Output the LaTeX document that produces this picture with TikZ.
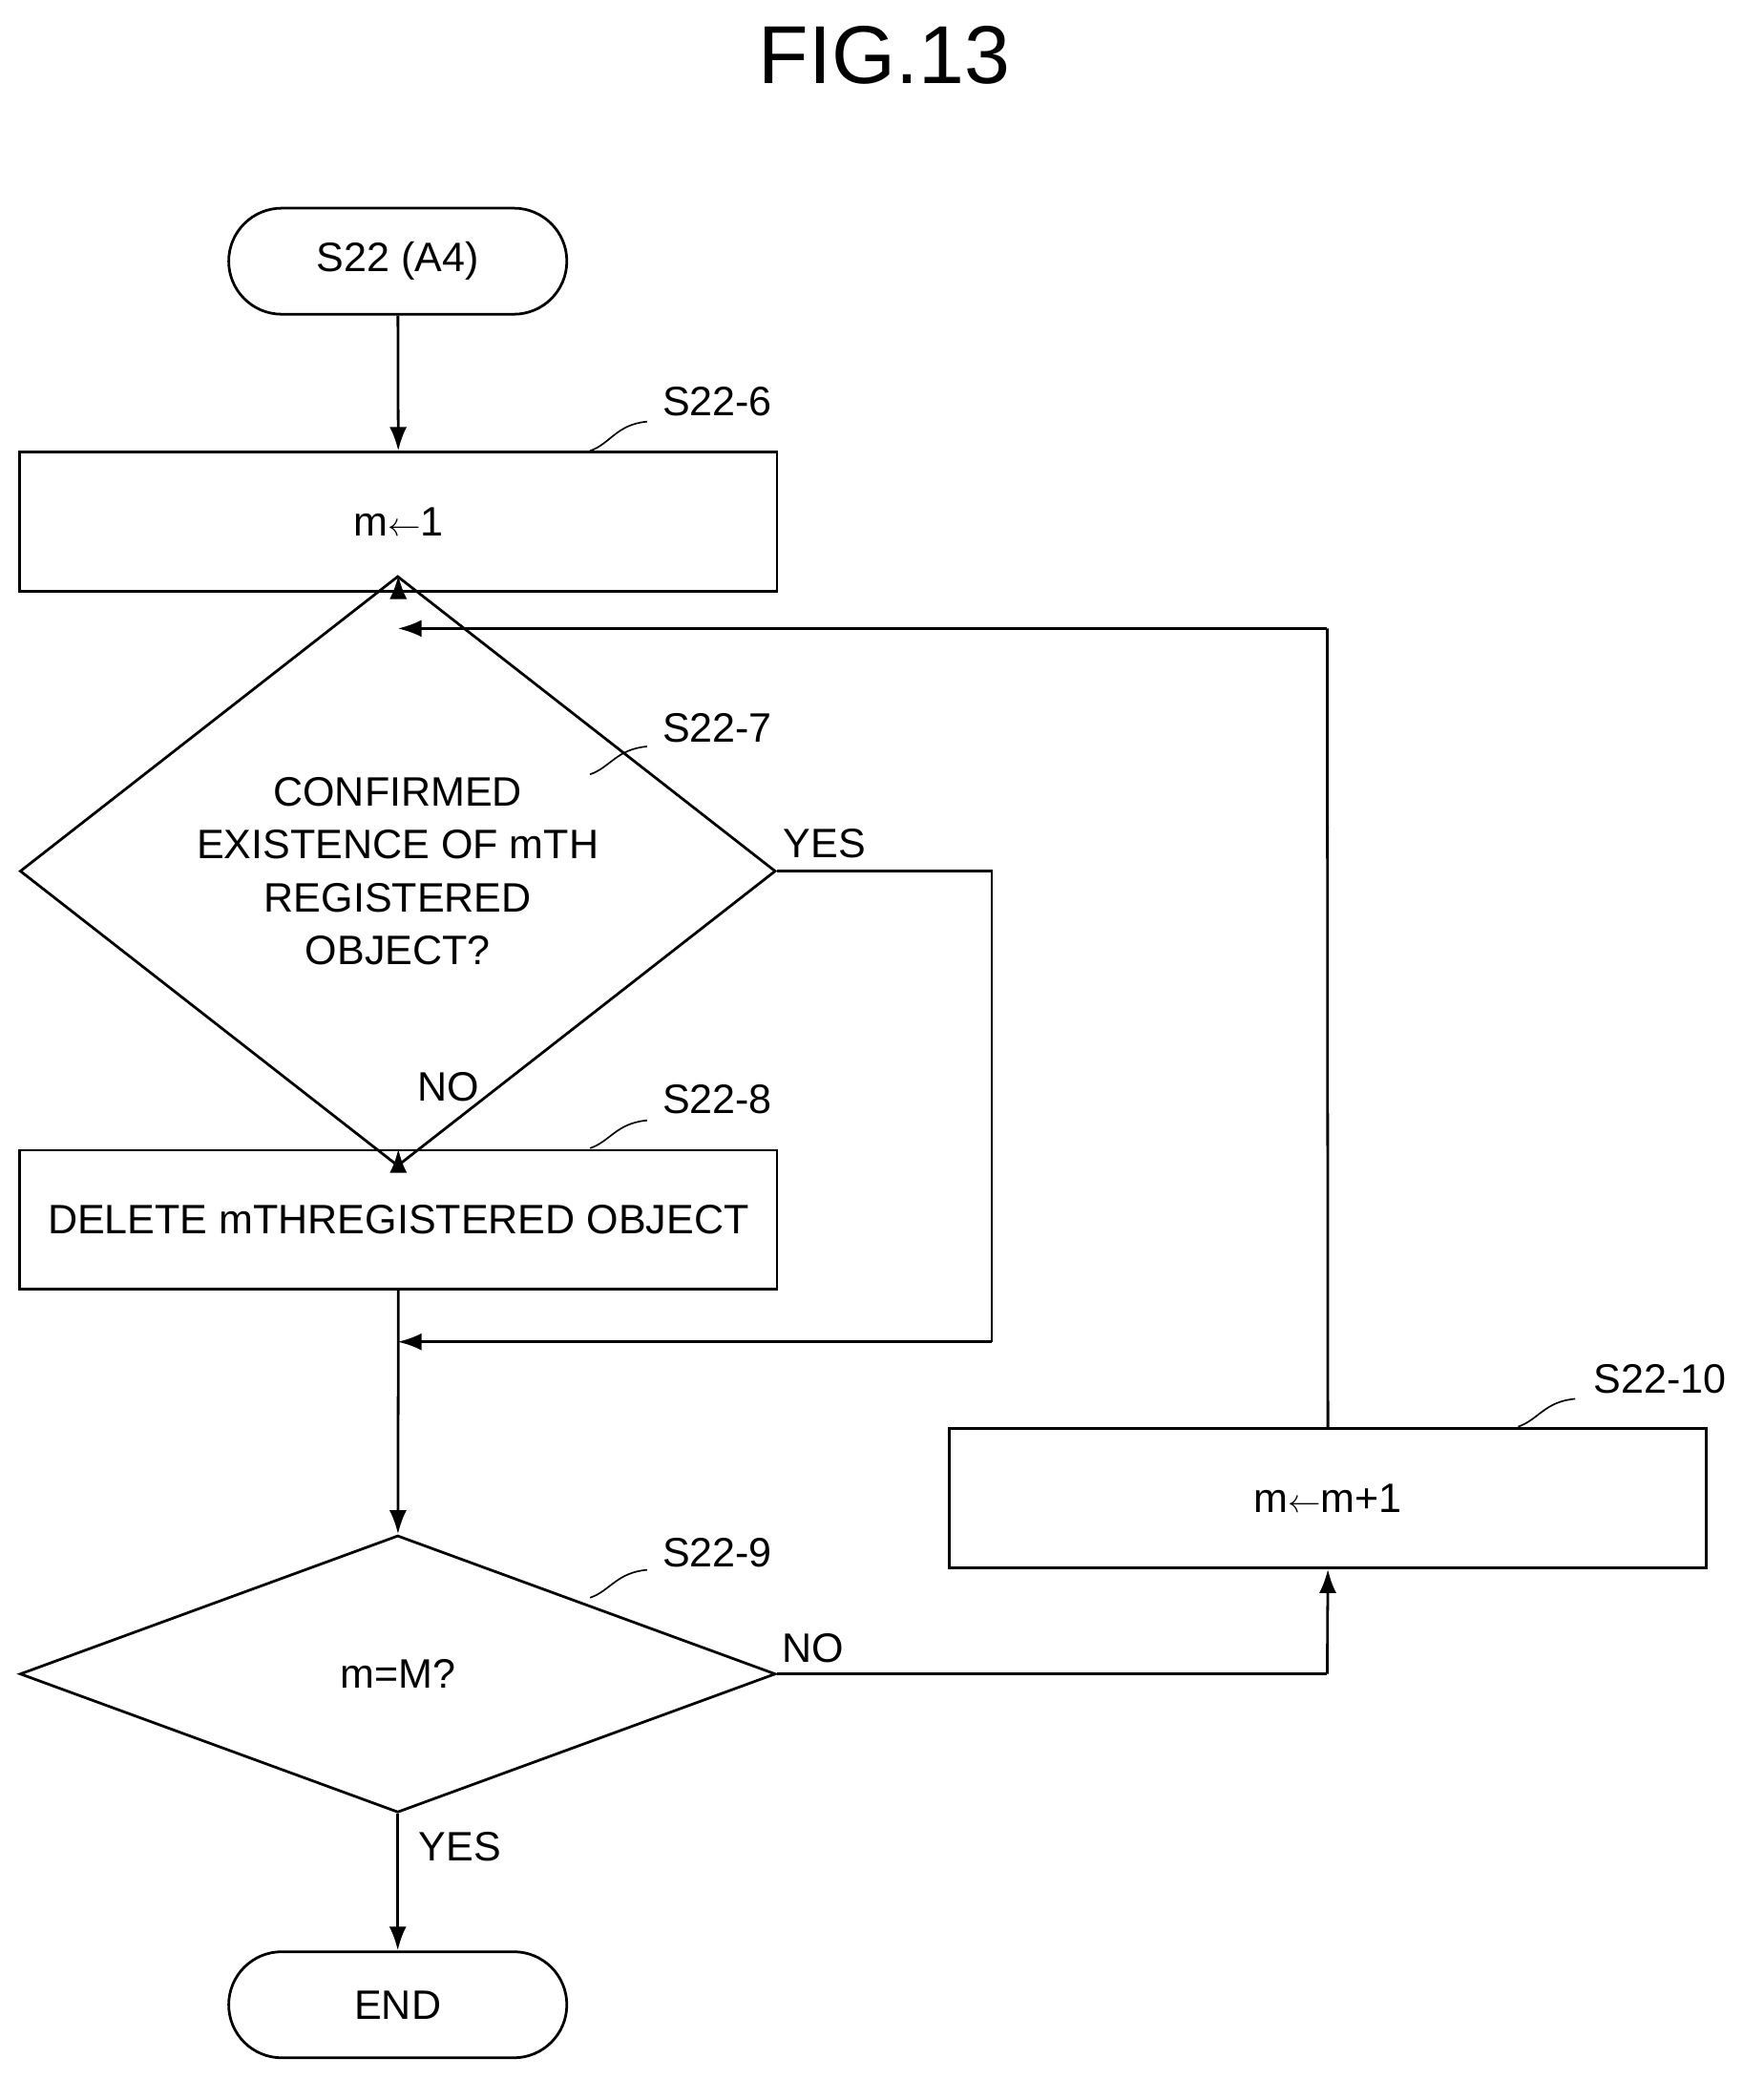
\documentclass[tikz,border=0pt]{standalone}
\usepackage{fontspec}
\setmainfont{Liberation Sans}
\usetikzlibrary{shapes.geometric,arrows.meta}
\begin{document}
\begin{tikzpicture}[x=1pt,y=-1pt,
  every node/.style={font=\fontsize{31}{40}\selectfont},
  box/.style={draw,line width=2pt,minimum width=571pt,minimum height=105pt,inner sep=0},
  term/.style={draw,line width=2pt,rounded corners=40pt,minimum width=255pt,minimum height=80pt,inner sep=0},
  dia/.style={draw,line width=2pt,diamond,inner sep=0,minimum width=570pt,align=center},
  line/.style={line width=2pt},
  arr/.style={line width=2pt,-{Latex[length=18pt,width=13pt]}},
  lbl/.style={inner sep=0},
  sq/.style={line width=1.2pt}]
\useasboundingbox (0,0) rectangle (1330,1568);
\node[lbl,font=\fontsize{62}{70}\selectfont] (title) at (667,42) {FIG.13};
\node[term] (start) at (300,197) {S22 (A4)};
\node[box] (b6) at (300.5,393.5) {m$\leftarrow$1};
\node[dia,minimum height=280pt] (d7) at (300,657) {CONFIRMED\\EXISTENCE OF mTH\\REGISTERED\\OBJECT?};
\node[box] (b8) at (300.5,920) {DELETE mTH\\[-4pt]REGISTERED OBJECT};
\node[box,align=center] at (300.5,920) {}; 
\node[dia,minimum height=209pt] (d9) at (300,1262.5) {m=M?};
\node[box] (b10) at (1001.5,1130) {m$\leftarrow$m+1};
\node[term] (end) at (300,1512) {END};
\coordinate (j1) at (300,474);
\coordinate (j2) at (300,1012);
% labels
\node[lbl] (l6) at (541,303) {S22-6};
\node[lbl] (l7) at (541,549) {S22-7};
\node[lbl] (l8) at (541,829) {S22-8};
\node[lbl] (l9) at (541,1171) {S22-9};
\node[lbl] (l10) at (1252,1040) {S22-10};
\draw[sq] (445,340) .. controls (460,335) and (465,320) .. (488,318);
\draw[sq] (445,584) .. controls (460,579) and (465,565) .. (488,563);
\draw[sq] (445,866) .. controls (460,861) and (465,847) .. (488,845);
\draw[sq] (445,1205) .. controls (460,1200) and (465,1186) .. (488,1184);
\draw[sq] (1145,1076) .. controls (1160,1071) and (1165,1057) .. (1188,1055);
\node[lbl] (yes1) at (622,636) {YES};
\node[lbl] (no1) at (338,820) {NO};
\node[lbl] (no2) at (613,1243) {NO};
\node[lbl] (yes2) at (347,1393) {YES};
% connectors
\draw[arr] (start) -- (b6);
\draw[arr] (b6) -- (d7);
\draw[arr] (d7) -- (b8);
\draw[line] (d7.east) -- (748,657) -- (748,1012);
\draw[arr] (748,1012) -- (j2);
\draw[arr] (b8) -- (d9);
\draw[line] (d9.east) -- (1001,1262.5);
\draw[arr] (1001,1262.5) -- (b10.south);
\draw[line] (b10.north) -- (1001,474);
\draw[arr] (1001,474) -- (j1);
\draw[arr] (d9) -- (end);
\end{tikzpicture}
\end{document}
